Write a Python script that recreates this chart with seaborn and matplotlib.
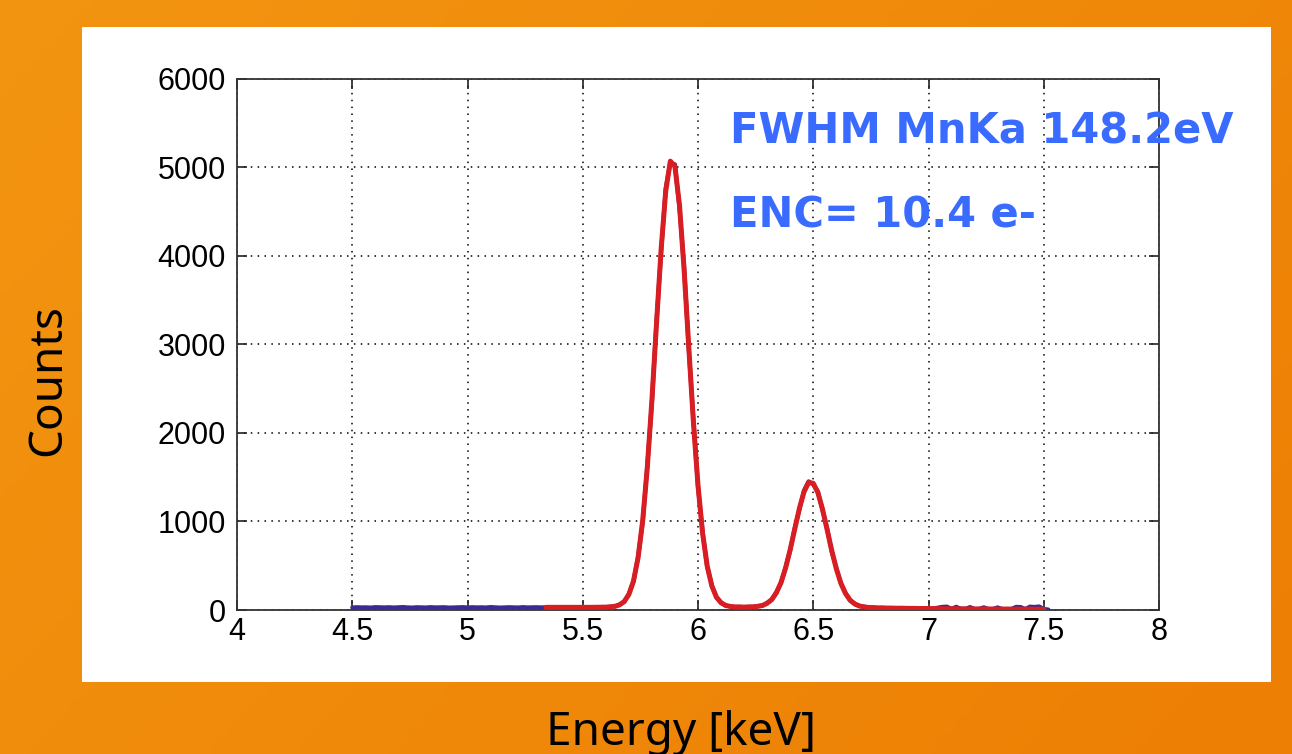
import numpy as np
import pandas as pd
import matplotlib
matplotlib.use("Agg")
import matplotlib.pyplot as plt
from matplotlib.patches import Rectangle
import seaborn as sns

# Measured Fe-55 spectrum, 0.02 keV bins starting at 4.50 keV
bin_start_keV = 4.50
bin_width_keV = 0.02
measured_counts = [
    28, 31, 29, 30, 27, 32, 30, 29, 31, 28,
    30, 33, 29, 27, 31, 30, 28, 32, 29, 30,
    31, 27, 29, 30, 32, 28, 31, 29, 30, 28,
    33, 30, 27, 29, 31, 30, 28, 32, 29, 30,
    31, 29,
    31, 28, 30, 32, 29, 31, 28, 30, 33, 29,
    31, 30, 34, 33, 38, 40, 62, 91, 182, 318,
    602, 990, 1625, 2340, 3260, 4040, 4760, 5050, 5030, 4530,
    3860, 2940, 2150, 1390, 880, 485, 280, 140, 86, 49,
    42, 33, 37, 31, 36, 34, 45, 49, 80, 114,
    201, 303, 482, 675, 928, 1135, 1350, 1452, 1418, 1338,
    1128, 920, 661, 475, 296, 192, 106, 72, 43, 38,
    27, 29, 22, 25, 20, 23, 18, 22, 17, 20,
    16, 19, 15, 18, 14, 26, 35, 38, 12, 36,
    14, 11, 33, 10, 12, 30, 9, 11, 29, 10,
    8, 12, 35, 33, 10, 38, 34, 40, 12, 5,
]

# Gaussian fit (Mn K-alpha + K-beta on flat background), same grid from 5.34 keV
fit_start_keV = 5.34
fit_counts = [
    30, 30, 30, 30, 30, 30, 30, 30, 30, 30,
    30, 31, 31, 32, 35, 42, 58, 96, 175, 326,
    590, 1008, 1606, 2369, 3232, 4071, 4729, 5067, 5006, 4561,
    3831, 2969, 2125, 1408, 864, 496, 271, 145, 81, 52,
    40, 35, 33, 33, 34, 36, 41, 52, 76, 119,
    194, 310, 474, 682, 917, 1148, 1334, 1440, 1430, 1325,
    1140, 909, 674, 466, 302, 186, 111, 68, 46, 35,
    29, 26, 24, 23, 22, 21, 20, 20, 19, 18,
    18, 17, 17, 16, 16, 15, 15, 14, 14, 14,
    13, 13, 13, 12, 12, 12, 12, 11, 11, 11,
    11, 10, 10, 10, 10, 10, 9, 9, 9,
]

x_ticks = [4, 4.5, 5, 5.5, 6, 6.5, 7, 7.5, 8]
x_tick_labels = ["4", "4.5", "5", "5.5", "6", "6.5", "7", "7.5", "8"]
y_ticks = [0, 1000, 2000, 3000, 4000, 5000, 6000]
y_tick_labels = ["0", "1000", "2000", "3000", "4000", "5000", "6000"]
x_label = "Energy [keV]"
y_label = "Counts"
notes = ["FWHM MnKa 148.2eV", "ENC= 10.4 e-"]

measured = pd.DataFrame({
    "energy": np.round(bin_start_keV + bin_width_keV * np.arange(len(measured_counts)), 2),
    "counts": measured_counts,
})
fit = pd.DataFrame({
    "energy": np.round(fit_start_keV + bin_width_keV * np.arange(len(fit_counts)), 2),
    "counts": fit_counts,
})

sns.set_style("ticks")
plt.rcParams["font.family"] = ["Liberation Sans", "DejaVu Sans"]

W, H = 1292, 754
fig = plt.figure(figsize=(W / 100, H / 100), dpi=100)

# orange slide background with a soft diagonal gradient
bg = fig.add_axes([0, 0, 1, 1], zorder=-10)
gy, gx = np.mgrid[0:1:200j, 0:1:300j]
t = np.clip(0.65 * gx + 0.35 * gy, 0, 1)[..., None]
c0 = np.array([243, 149, 17]) / 255
c1 = np.array([237, 127, 4]) / 255
bg.imshow(c0 * (1 - t) + c1 * t, aspect="auto", extent=[0, 1, 0, 1], origin="upper")
bg.set_axis_off()

# white plot panel
fig.patches.append(Rectangle((82 / W, 1 - 682 / H), (1271 - 82) / W, (682 - 27) / H,
                             transform=fig.transFigure, facecolor="white",
                             edgecolor="none", zorder=-5))

ax = fig.add_axes([237 / W, 1 - 610 / H, (1159 - 237) / W, (610 - 78.5) / H])
ax.set_facecolor("white")

sns.lineplot(data=measured, x="energy", y="counts", ax=ax, color="#3a2b8e",
             linewidth=3.0, estimator=None, zorder=3)
sns.lineplot(data=fit, x="energy", y="counts", ax=ax, color="#d81e22",
             linewidth=3.6, estimator=None, zorder=4)

ax.set_xlim(4, 8)
ax.set_ylim(0, 6000)
ax.set_xticks(x_ticks)
ax.set_xticklabels(x_tick_labels)
ax.set_yticks(y_ticks)
ax.set_yticklabels(y_tick_labels)
ax.set_xlabel("")
ax.set_ylabel("")

ax.grid(True, color="black", linestyle=(0, (1, 3.5)), linewidth=1.1, zorder=1)
ax.set_axisbelow(True)
ax.tick_params(direction="in", length=7, width=1.2, top=True, right=True,
               labelsize=22, colors="#222222", labelcolor="black")
ax.tick_params(axis="x", pad=5)
ax.tick_params(axis="y", pad=8)
for s in ax.spines.values():
    s.set_color("#333333")
    s.set_linewidth(1.3)

label_font = ["Noto Sans", "DejaVu Sans"]
fig.text(48 / W, 1 - 380 / H, y_label, rotation=90, ha="center", va="center",
         fontsize=33, family=label_font, color="black")
fig.text(681 / W, 1 - 745 / H, x_label, ha="center", va="baseline",
         fontsize=33, family=label_font, color="black")

note_color = "#3a6bff"
fig.text(730 / W, 1 - 143 / H, notes[0], ha="left", va="baseline", fontsize=30,
         fontweight="bold", family=["DejaVu Sans"], color=note_color)
fig.text(730 / W, 1 - 228 / H, notes[1], ha="left", va="baseline", fontsize=30,
         fontweight="bold", family=["DejaVu Sans"], color=note_color)

fig.savefig("out.png", dpi=100)
